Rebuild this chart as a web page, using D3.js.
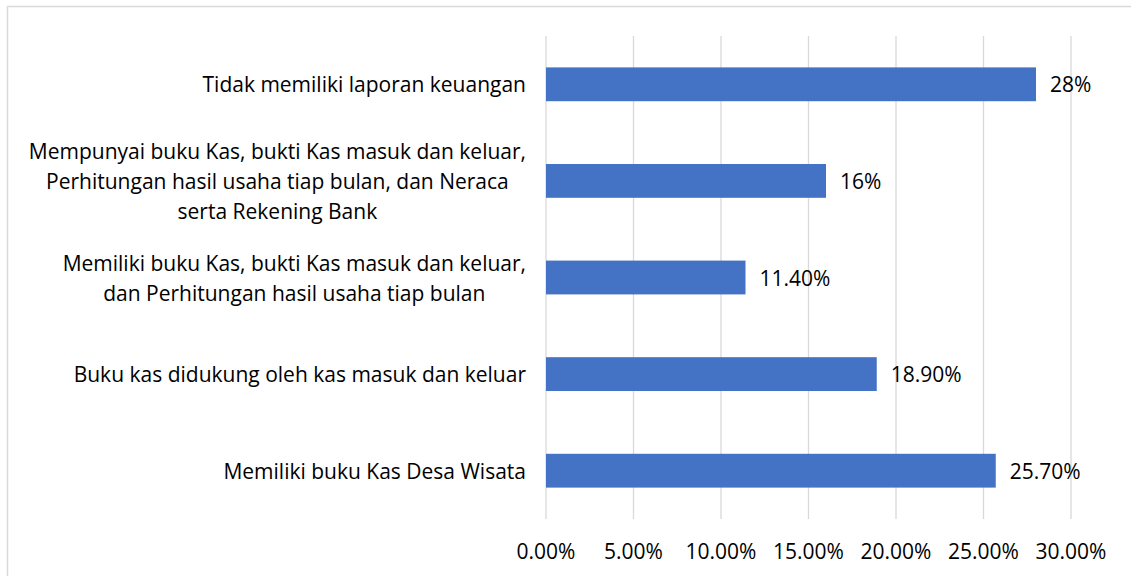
<!DOCTYPE html>
<html lang="en">
<head>
<meta charset="utf-8">
<script src="https://cdn.jsdelivr.net/npm/d3@7"></script>
<style>
    body { margin: 0; background: #fff; }
    text { font-family: "Open Sans", sans-serif; font-size: 21px; fill: #000; }
    .grid line { stroke: #d9d9d9; stroke-width: 1.3px; }
</style>
</head>
<body>
<script>
    // categories top to bottom, label lines split as in the chart
    const categories = [
        ["Tidak memiliki laporan keuangan"],
        ["Mempunyai buku Kas, bukti Kas masuk dan keluar,", "Perhitungan hasil usaha tiap bulan, dan Neraca", "serta Rekening Bank"],
        ["Memiliki buku Kas, bukti Kas masuk dan keluar,", "dan Perhitungan hasil usaha tiap bulan"],
        ["Buku kas didukung oleh kas masuk dan keluar"],
        ["Memiliki buku Kas Desa Wisata"]
    ];
    const values = [0.28, 0.16, 0.114, 0.189, 0.257];
    const valueLabels = ["28%", "16%", "11.40%", "18.90%", "25.70%"];
    const ticks = [0, 0.05, 0.10, 0.15, 0.20, 0.25, 0.30];

    const W = 1131, H = 576;
    const svg = d3.select("body").append("svg").attr("width", W).attr("height", H);

    // chart border
    svg.append("rect").attr("x", 7.5).attr("y", 6.5).attr("width", W).attr("height", H)
        .attr("fill", "none").attr("stroke", "#d9d9d9").attr("stroke-width", 1.5);

    const x = d3.scaleLinear().domain([0, 0.30]).range([546, 1071]);
    const y = d3.scaleBand().domain(d3.range(categories.length)).range([36, 519]).paddingInner(0.65).paddingOuter(0.325);

    // gridlines
    svg.append("g").attr("class", "grid").selectAll("line").data(ticks).enter().append("line")
        .attr("x1", d => x(d)).attr("x2", d => x(d))
        .attr("y1", 36).attr("y2", 519);

    // bars
    svg.append("g").selectAll("rect").data(values).enter().append("rect")
        .attr("x", x(0))
        .attr("y", (d, i) => y(i))
        .attr("width", d => x(d) - x(0))
        .attr("height", y.bandwidth())
        .attr("fill", "#4472c4");

    // value labels
    svg.append("g").selectAll("text").data(values).enter().append("text")
        .attr("x", d => x(d) + 14)
        .attr("y", (d, i) => y(i) + y.bandwidth() / 2)
        .attr("dominant-baseline", "central")
        .text((d, i) => valueLabels[i]);

    // tick labels
    svg.append("g").selectAll("text").data(ticks).enter().append("text")
        .attr("x", d => x(d))
        .attr("y", 551)
        .attr("text-anchor", "middle")
        .attr("dominant-baseline", "central")
        .text(d => d3.format(".2%")(d));

    // category labels: block right aligned, lines centred
    const lineH = 30;
    const labels = svg.append("g").selectAll("g").data(categories).enter().append("g");
    labels.each(function (lines, i) {
        const g = d3.select(this);
        const cy = y(i) + y.bandwidth() / 2;
        const t = g.selectAll("text").data(lines).enter().append("text")
            .attr("text-anchor", "middle")
            .attr("dominant-baseline", "central")
            .attr("y", (d, k) => cy + (k - (lines.length - 1) / 2) * lineH)
            .text(d => d);
        let maxW = 0;
        t.each(function () { maxW = Math.max(maxW, this.getComputedTextLength()); });
        t.attr("x", 526 - maxW / 2);
    });
</script>
</body>
</html>
